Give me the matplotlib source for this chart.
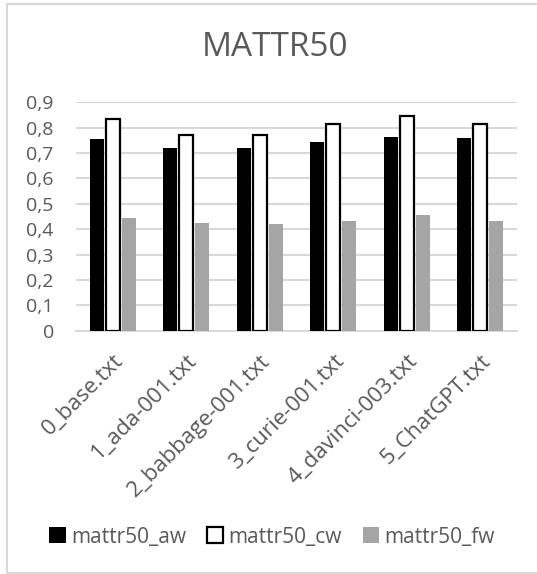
import matplotlib
matplotlib.use("Agg")
import matplotlib.pyplot as plt
from matplotlib.patches import Rectangle
import numpy as np

plt.rcParams['font.family'] = ['Open Sans', 'DejaVu Sans']

categories = ["0_base.txt", "1_ada-001.txt", "2_babbage-001.txt",
              "3_curie-001.txt", "4_davinci-003.txt", "5_ChatGPT.txt"]
series_names = ["mattr50_aw", "mattr50_cw", "mattr50_fw"]
aw = [0.754, 0.719, 0.719, 0.745, 0.765, 0.759]
cw = [0.833, 0.770, 0.770, 0.816, 0.845, 0.816]
fw = [0.444, 0.423, 0.419, 0.433, 0.455, 0.433]
yticks = [0, 0.1, 0.2, 0.3, 0.4, 0.5, 0.6, 0.7, 0.8, 0.9]
ytick_labels = ["0", "0,1", "0,2", "0,3", "0,4", "0,5", "0,6", "0,7", "0,8", "0,9"]

W, H = 537, 574
fig = plt.figure(figsize=(W / 100, H / 100), dpi=100)
fig.patch.set_facecolor("white")

# chart border
fig.patches.append(Rectangle((7 / W, 1 / H), 1.2, (H - 5) / H, transform=fig.transFigure,
                             fill=False, edgecolor="#D9D9D9", linewidth=1.5))

ax = fig.add_axes([76 / W, (H - 330.7) / H, (517 - 76) / W, (330.7 - 102.3) / H])
x = np.arange(len(categories))
width = 0.19
off = 0.22
ax.bar(x - off, aw, width, color="black", label=series_names[0], zorder=3)
ax.bar(x, cw, width, color="white", edgecolor="black", linewidth=1.6,
       label=series_names[1], zorder=3)
ax.bar(x + off, fw, width, color="#A5A5A5", label=series_names[2], zorder=3)

ax.set_xlim(-0.5, len(categories) - 0.5)
ax.set_ylim(0, 0.9)
ax.set_yticks(yticks)
ax.set_yticklabels(ytick_labels, fontsize=14, color="#595959")
ax.yaxis.grid(True, color="#D9D9D9", linewidth=1.5, zorder=0)
ax.tick_params(axis="y", length=0, pad=16)
ax.set_xticks(x)
ax.set_xticklabels(categories, rotation=45, ha="right", va="top",
                   rotation_mode="anchor", fontsize=16, color="#595959")
ax.tick_params(axis="x", length=0, pad=14)
for s in ["top", "right", "left"]:
    ax.spines[s].set_visible(False)
ax.spines["bottom"].set_color("#D9D9D9")
ax.spines["bottom"].set_linewidth(1.5)
ax.set_axisbelow(True)

fig.text(275 / W, 1 - 47 / H, "MATTR50", ha="center", va="center",
         fontsize=24, color="#595959")

leg = fig.legend(loc="center", bbox_to_anchor=(272 / W, 1 - 537 / H), ncol=3,
                 frameon=False, fontsize=15, handlelength=0.8, handleheight=0.8,
                 handletextpad=0.25, columnspacing=1.0)
for t in leg.get_texts():
    t.set_color("#595959")

fig.savefig("out.png", dpi=100, facecolor="white")
